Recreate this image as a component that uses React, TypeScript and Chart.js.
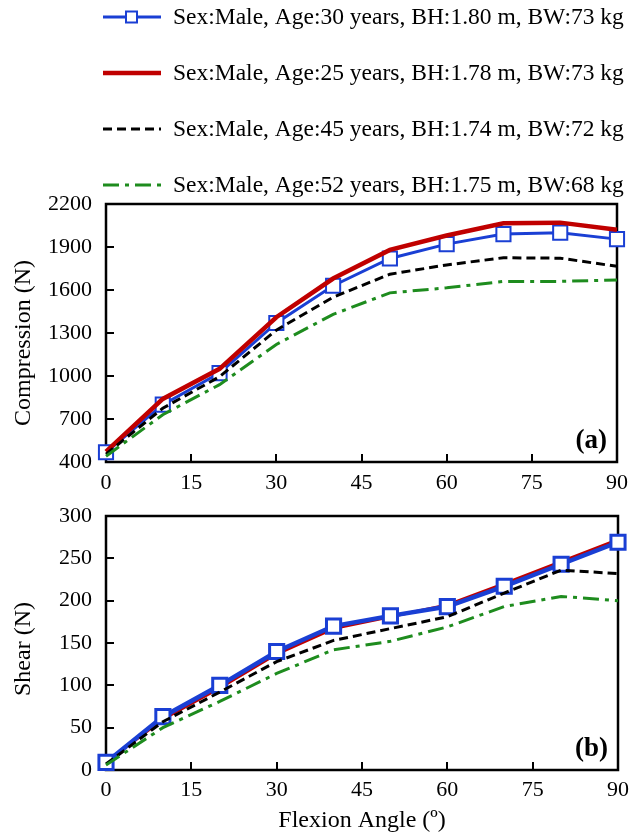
import React, { useEffect, useRef } from "react";
import { Chart, registerables } from "chart.js";

Chart.register(...registerables);

// ---------- data ----------
const angles = [0, 10, 20, 30, 40, 50, 60, 70, 80, 90];
const xTickValues = [0, 15, 30, 45, 60, 75, 90];
const compressionTickValues = [400, 700, 1000, 1300, 1600, 1900, 2200];
const shearTickValues = [0, 50, 100, 150, 200, 250, 300];

const seriesLabels = [
  "Sex:Male, Age:30 years, BH:1.80 m, BW:73 kg",
  "Sex:Male, Age:25 years, BH:1.78 m, BW:73 kg",
  "Sex:Male, Age:45 years, BH:1.74 m, BW:72 kg",
  "Sex:Male, Age:52 years, BH:1.75 m, BW:68 kg",
];

const compressionAge30 = [468, 800, 1020, 1370, 1630, 1820, 1920, 1990, 2000, 1955];
const compressionAge25 = [472, 840, 1050, 1410, 1680, 1880, 1980, 2065, 2070, 2020];
const compressionAge45 = [455, 775, 995, 1320, 1550, 1710, 1775, 1825, 1822, 1765];
const compressionAge52 = [440, 730, 940, 1220, 1430, 1580, 1615, 1660, 1660, 1670];

const shearAge30 = [9, 63, 100, 140, 170, 182, 193, 217, 243, 269];
const shearAge25 = [9, 60, 97, 137, 167, 181, 195, 220, 246, 272];
const shearAge45 = [7, 57, 92, 128, 153, 167, 181, 209, 236, 232];
const shearAge52 = [6, 50, 81, 114, 142, 152, 169, 193, 205, 200];

const xTitle = "Flexion Angle (º)";
const compressionTitle = "Compression (N)";
const shearTitle = "Shear (N)";

// ---------- styles ----------
const FONT = "'Liberation Serif', 'Times New Roman', Times, serif";
const BLUE = "#1a3fd4";
const RED = "#c00000";
const BLACK = "#000000";
const GREEN = "#1e8c1e";

const pts = (xs: number[], ys: number[]) => xs.map((x, i) => ({ x, y: ys[i] }));

const framePlugin = {
  id: "frame",
  beforeDatasetsDraw(chart: any) {
    const { ctx, chartArea } = chart;
    const { left, top, right, bottom } = chartArea;
    ctx.save();
    ctx.strokeStyle = "#000";
    ctx.lineWidth = 2.5;
    ctx.strokeRect(left, top, right - left, bottom - top);
    ctx.restore();
  },
};

const textPlugin = (panel: string, title: string, titleY: number) => ({
  id: "panelTexts",
  afterDraw(chart: any) {
    const { ctx, chartArea } = chart;
    ctx.save();
    ctx.fillStyle = "#000";
    ctx.font = `bold 27px ${FONT}`;
    ctx.textAlign = "right";
    ctx.textBaseline = "middle";
    ctx.fillText(panel, chartArea.right - 10, chartArea.bottom - 21);
    ctx.translate(24, titleY);
    ctx.rotate(-Math.PI / 2);
    ctx.font = `24px ${FONT}`;
    ctx.textAlign = "center";
    ctx.fillText(title, 0, 0);
    ctx.restore();
  },
});

const legendPlugin = {
  id: "customLegend",
  afterDraw(chart: any) {
    const { ctx } = chart;
    const ds = chart.data.datasets;
    ctx.save();
    ds.forEach((d: any, i: number) => {
      const y = 17 + i * 56;
      ctx.beginPath();
      ctx.strokeStyle = d.borderColor;
      ctx.lineWidth = d.borderWidth;
      ctx.setLineDash(d.borderDash || []);
      ctx.moveTo(103, y);
      ctx.lineTo(161, y);
      ctx.stroke();
      ctx.setLineDash([]);
      if (d.pointStyle === "rect") {
        ctx.fillStyle = "#fff";
        ctx.strokeStyle = d.pointBorderColor;
        ctx.lineWidth = 2;
        ctx.fillRect(126, y - 5.5, 11, 11);
        ctx.strokeRect(126, y - 5.5, 11, 11);
      }
      ctx.fillStyle = "#000";
      ctx.font = `23.5px ${FONT}`;
      ctx.textAlign = "left";
      ctx.textBaseline = "middle";
      ctx.fillText(d.label, 173, y + 1);
    });
    ctx.restore();
  },
};

const tickGrid = {
  display: true,
  drawOnChartArea: false,
  drawTicks: true,
  tickLength: -8,
  color: "#000",
  lineWidth: 2,
};

function makeDatasets(v30: number[], v25: number[], v45: number[], v52: number[], top: boolean) {
  return [
    {
      label: seriesLabels[0],
      data: pts(angles, v30),
      borderColor: BLUE,
      backgroundColor: BLUE,
      borderWidth: top ? 3 : 4.5,
      pointStyle: "rect",
      pointRadius: 10,
      pointHoverRadius: 10,
      pointBackgroundColor: "#ffffff",
      pointBorderColor: BLUE,
      pointBorderWidth: top ? 2 : 3,
      tension: 0,
      clip: false,
      order: top ? 4 : 3,
    },
    {
      label: seriesLabels[1],
      data: pts(angles, v25),
      borderColor: RED,
      backgroundColor: RED,
      borderWidth: top ? 4.5 : 3,
      pointRadius: 0,
      tension: 0,
      clip: false,
      order: top ? 3 : 4,
    },
    {
      label: seriesLabels[2],
      data: pts(angles, v45),
      borderColor: BLACK,
      backgroundColor: BLACK,
      borderWidth: 3,
      borderDash: [9, 5],
      pointRadius: 0,
      tension: 0,
      clip: false,
      order: 2,
    },
    {
      label: seriesLabels[3],
      data: pts(angles, v52),
      borderColor: GREEN,
      backgroundColor: GREEN,
      borderWidth: 3,
      borderDash: [16, 6, 4, 6],
      pointRadius: 0,
      tension: 0,
      clip: false,
      order: 1,
    },
  ];
}

function scalesFor(yMin: number, yMax: number, yTicks: number[], xHeight: number, xLabelPad: number, withTitle: boolean) {
  return {
    x: {
      type: "linear",
      min: 0,
      max: 90,
      afterBuildTicks: (s: any) => {
        s.ticks = xTickValues.map((v) => ({ value: v }));
      },
      afterFit: (s: any) => {
        s.height = xHeight;
      },
      grid: tickGrid,
      border: { display: false },
      ticks: {
        color: "#000",
        font: { size: 22, family: FONT },
        padding: xLabelPad,
        maxRotation: 0,
        autoSkip: false,
        callback: (v: any) => String(v),
      },
      title: {
        display: withTitle,
        text: xTitle,
        color: "#000",
        font: { size: 24, family: FONT, lineHeight: 1.1 },
        padding: { top: 0, bottom: 0 },
      },
    },
    y: {
      type: "linear",
      min: yMin,
      max: yMax,
      afterBuildTicks: (s: any) => {
        s.ticks = yTicks.map((v) => ({ value: v }));
      },
      afterFit: (s: any) => {
        s.width = 106;
      },
      grid: tickGrid,
      border: { display: false },
      ticks: {
        color: "#000",
        font: { size: 22, family: FONT },
        padding: 22,
        autoSkip: false,
        callback: (v: any) => String(v),
      },
    },
  };
}

const BOTTOM_TOP = 476;

export default function App() {
  const topRef = useRef<HTMLCanvasElement | null>(null);
  const botRef = useRef<HTMLCanvasElement | null>(null);

  useEffect(() => {
    if (!topRef.current || !botRef.current) return;
    const top = new Chart(topRef.current, {
      type: "line",
      data: {
        datasets: makeDatasets(compressionAge30, compressionAge25, compressionAge45, compressionAge52, true) as any,
      },
      options: {
        animation: false,
        responsive: false,
        maintainAspectRatio: false,
        devicePixelRatio: 1,
        events: [],
        layout: { padding: { top: 204, right: 23, left: 0, bottom: 0 } },
        plugins: { legend: { display: false }, tooltip: { enabled: false } },
        scales: scalesFor(400, 2200, compressionTickValues, 43, 16, false) as any,
      },
      plugins: [framePlugin, legendPlugin, textPlugin("(a)", compressionTitle, 343)],
    } as any);

    const bottom = new Chart(botRef.current, {
      type: "line",
      data: {
        datasets: makeDatasets(shearAge30, shearAge25, shearAge45, shearAge52, false) as any,
      },
      options: {
        animation: false,
        responsive: false,
        maintainAspectRatio: false,
        devicePixelRatio: 1,
        events: [],
        layout: { padding: { top: 516 - BOTTOM_TOP, right: 25, left: 0, bottom: 0 } },
        plugins: { legend: { display: false }, tooltip: { enabled: false } },
        scales: scalesFor(0, 300, shearTickValues, 64, 15, true) as any,
      },
      plugins: [framePlugin, textPlugin("(b)", shearTitle, 649 - BOTTOM_TOP)],
    } as any);

    return () => {
      top.destroy();
      bottom.destroy();
    };
  }, []);

  return (
    <div style={{ position: "absolute", left: 0, top: 0, width: 644, height: 834, background: "#fff" }}>
      <canvas
        ref={topRef}
        width={644}
        height={505}
        style={{ position: "absolute", left: 0, top: 0, width: 644, height: 505, display: "block" }}
      />
      <canvas
        ref={botRef}
        width={644}
        height={834 - BOTTOM_TOP}
        style={{ position: "absolute", left: 0, top: BOTTOM_TOP, width: 644, height: 834 - BOTTOM_TOP, display: "block" }}
      />
    </div>
  );
}
